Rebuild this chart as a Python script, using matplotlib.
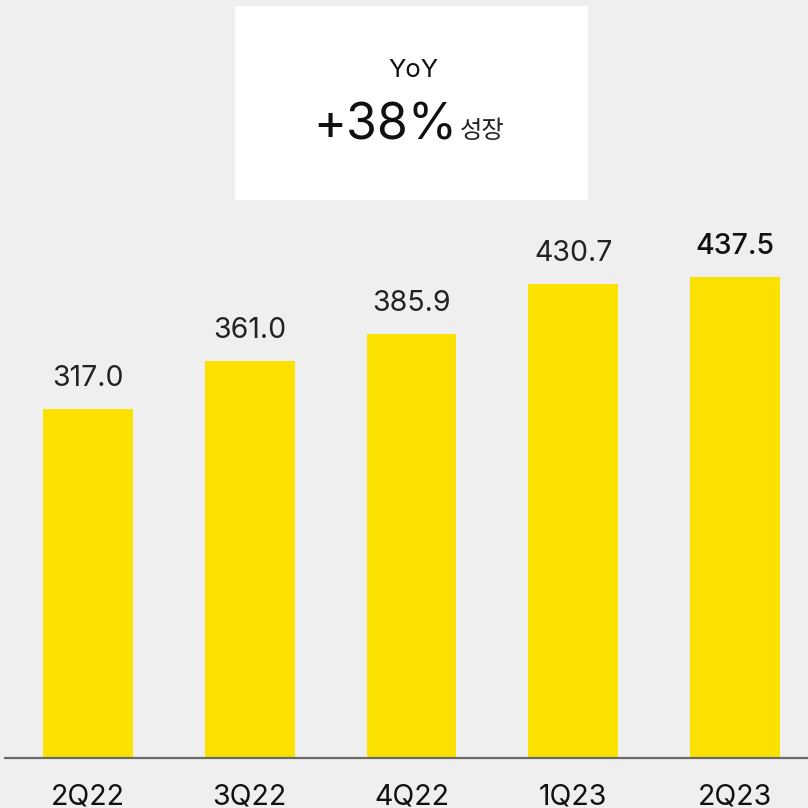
import matplotlib
matplotlib.use('Agg')
import matplotlib.pyplot as plt
from matplotlib.patches import Rectangle

quarters = ['2Q22', '3Q22', '4Q22', '1Q23', '2Q23']
revenue = [317.0, 361.0, 385.9, 430.7, 437.5]
yoy_text = '+38%'
yoy_word = '성장'

bg = '#efefef'
bar_clr = '#fae100'
W = H = 808.0
px = 1.1  # pixels per unit on the value axis

plt.rcParams['font.family'] = ['Inter', 'Noto Sans CJK KR', 'DejaVu Sans']

fig = plt.figure(figsize=(8.08, 8.08), dpi=100, facecolor=bg)
ax = fig.add_axes([0, 0, 1, 1])
ax.set_facecolor(bg)

xs = list(range(len(quarters)))
ax.bar(xs, revenue, width=0.556, color=bar_clr, zorder=2)
ax.set_xlim(-88 / 161.75, (W - 88) / 161.75)
ax.set_ylim(-50 / px, 758 / px)
ax.axhline(0, xmin=5 / W, xmax=1, color='#6a6a6a', lw=1.6, zorder=3)

for i, v in enumerate(revenue):
    last = i == len(revenue) - 1
    ax.text(i, v + 23 / px, '%.1f' % v, ha='center', va='baseline', fontsize=20.5,
            color='#111111' if last else '#222222',
            fontweight='medium' if last else 'normal')
    # quarter labels sit on the bottom edge, partly clipped
    ax.text(i, -46 / px, quarters[i], ha='center', va='baseline', fontsize=20.5,
            color='#111111')

for s in ax.spines.values():
    s.set_visible(False)
ax.set_xticks([])
ax.set_yticks([])

# YoY callout box
fig.patches.append(Rectangle((235 / W, 1 - 200 / H), 353 / W, 194 / H,
                             transform=fig.transFigure, facecolor='white',
                             edgecolor='none', zorder=5))
fig.text(413 / W, 1 - 77 / H, 'YoY', ha='center', va='baseline', fontsize=18.5,
         color='#111111', zorder=6)
fig.text(385 / W, 1 - 140 / H, yoy_text, ha='center', va='baseline', fontsize=36,
         color='#111111', zorder=6)
fig.text(482 / W, 1 - 138 / H, yoy_word, ha='center', va='baseline', fontsize=17.5,
         color='#222222', zorder=6)

fig.savefig('out.png', dpi=100, facecolor=bg)
